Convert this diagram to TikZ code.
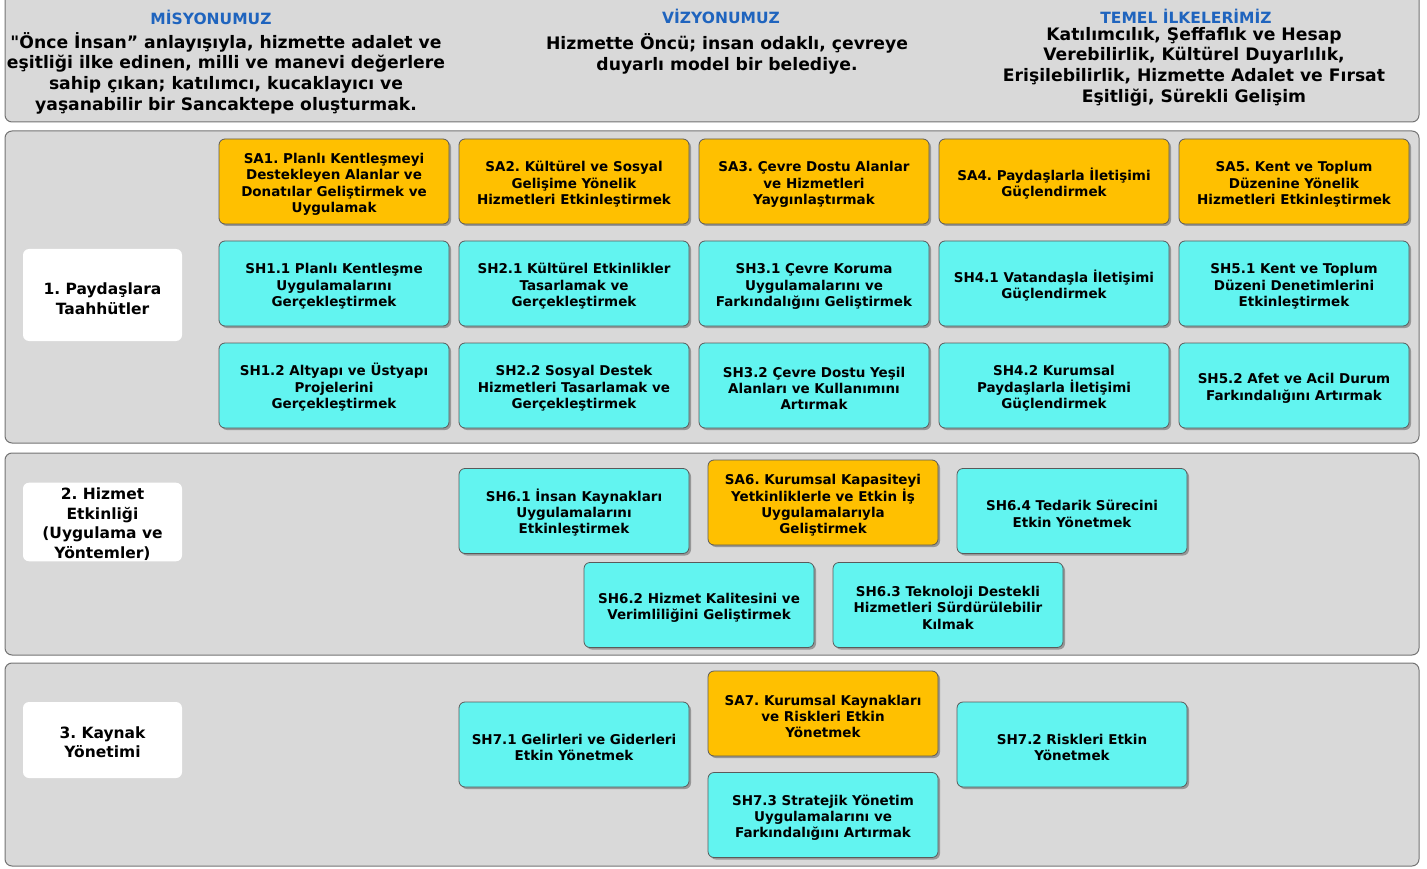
\documentclass[tikz,border=0pt]{standalone}
\usepackage{fontspec}
\setmainfont{DejaVu Sans}[Ligatures=TeXOff]
\usetikzlibrary{shadows}
\definecolor{gold}{HTML}{FFC000}
\definecolor{cyanbox}{HTML}{62F4F0}
\definecolor{panel}{HTML}{D9D9D9}
\definecolor{titleblue}{HTML}{1F64BE}
\definecolor{edge}{HTML}{5A5A5A}
\newcommand{\boxstrut}{\rule{0pt}{16pt}}
\begin{document}
\frenchspacing
\begin{tikzpicture}[x=1pt,y=-1pt,
  panelbox/.style={draw=edge!85, line width=1pt, fill=panel, rounded corners=7pt},
  box/.style={draw=edge, line width=0.8pt, rounded corners=6pt, minimum width=230pt,
    minimum height=85pt, align=center, inner sep=2pt,
    font=\fontsize{13.5}{16.3}\selectfont\bfseries,
    drop shadow={shadow xshift=2pt, shadow yshift=-2pt, fill=black, opacity=0.3}},
  sa/.style={box, fill=gold},
  sh/.style={box, fill=cyanbox},
  lab/.style={fill=white, rounded corners=6pt, minimum width=159pt, align=center,
    inner sep=1pt, font=\fontsize{15.5}{19.5}\selectfont\bfseries},
  ttl/.style={text=titleblue, font=\fontsize{15.5}{18}\selectfont\bfseries},
  hdr/.style={align=center, inner sep=0pt, font=\fontsize{17.2}{20.6}\selectfont\bfseries}
]
\useasboundingbox (0,0) rectangle (1427,869);
\begin{scope}
\clip (0,0) rectangle (1427,869);
\draw[panelbox] (5,-10) rectangle (1419,122);
\end{scope}
\draw[panelbox] (5,131) rectangle (1419,443);
\draw[panelbox] (5,453) rectangle (1419,655);
\draw[panelbox] (5,663) rectangle (1419,866);

% header
\node[ttl] (tmis) at (211,17) {MİSYONUMUZ};
\node[ttl] (tviz) at (721,16) {VİZYONUMUZ};
\node[ttl] (ttem) at (1186,16) {TEMEL İLKELERİMİZ};
\node[hdr] (mis) at (226,73) {"Önce İnsan” anlayışıyla, hizmette adalet ve\\eşitliği ilke edinen, milli ve manevi değerlere\\sahip çıkan; katılımcı, kucaklayıcı ve\\yaşanabilir bir Sancaktepe oluşturmak.};
\node[hdr] (viz) at (727,54) {Hizmette Öncü; insan odaklı, çevreye\\duyarlı model bir belediye.};
\node[hdr] (tem) at (1194,66.5) {Katılımcılık, Şeffaflık ve Hesap\\Verebilirlik, Kültürel Duyarlılık,\\Erişilebilirlik, Hizmette Adalet ve Fırsat\\Eşitliği, Sürekli Gelişim};

% labels
\node[lab, minimum height=92pt] (lab1) at (102.5,295) {\rule{0pt}{19pt}1. Paydaşlara\\Taahhütler};
\node[lab, minimum height=76pt] (lab2) at (102.5,522) {\rule{0pt}{16pt}2. Hizmet\\Etkinliği\\(Uygulama ve\\Yöntemler)};
\node[lab, minimum height=76pt] (lab3) at (102.5,740) {\rule{0pt}{16pt}3. Kaynak\\Yönetimi};

% section 1
\node[sa] (sa1) at (334,181.5) {\boxstrut SA1. Planlı Kentleşmeyi\\Destekleyen Alanlar ve\\Donatılar Geliştirmek ve\\Uygulamak};
\node[sa] (sa2) at (574,181.5) {\boxstrut SA2. Kültürel ve Sosyal\\Gelişime Yönelik\\Hizmetleri Etkinleştirmek};
\node[sa] (sa3) at (814,181.5) {\boxstrut SA3. Çevre Dostu Alanlar\\ve Hizmetleri\\Yaygınlaştırmak};
\node[sa] (sa4) at (1054,181.5) {\boxstrut SA4. Paydaşlarla İletişimi\\Güçlendirmek};
\node[sa] (sa5) at (1294,181.5) {\boxstrut SA5. Kent ve Toplum\\Düzenine Yönelik\\Hizmetleri Etkinleştirmek};

\node[sh] (sh11) at (334,283.5) {\boxstrut SH1.1 Planlı Kentleşme\\Uygulamalarını\\Gerçekleştirmek};
\node[sh] (sh21) at (574,283.5) {\boxstrut SH2.1 Kültürel Etkinlikler\\Tasarlamak ve\\Gerçekleştirmek};
\node[sh] (sh31) at (814,283.5) {\boxstrut SH3.1 Çevre Koruma\\Uygulamalarını ve\\Farkındalığını Geliştirmek};
\node[sh] (sh41) at (1054,283.5) {\boxstrut SH4.1 Vatandaşla İletişimi\\Güçlendirmek};
\node[sh] (sh51) at (1294,283.5) {\boxstrut SH5.1 Kent ve Toplum\\Düzeni Denetimlerini\\Etkinleştirmek};

\node[sh] (sh12) at (334,385.5) {\boxstrut SH1.2 Altyapı ve Üstyapı\\Projelerini\\Gerçekleştirmek};
\node[sh] (sh22) at (574,385.5) {\boxstrut SH2.2 Sosyal Destek\\Hizmetleri Tasarlamak ve\\Gerçekleştirmek};
\node[sh] (sh32) at (814,385.5) {\boxstrut SH3.2 Çevre Dostu Yeşil\\Alanları ve Kullanımını\\Artırmak};
\node[sh] (sh42) at (1054,385.5) {\boxstrut SH4.2 Kurumsal\\Paydaşlarla İletişimi\\Güçlendirmek};
\node[sh] (sh52) at (1294,385.5) {\boxstrut SH5.2 Afet ve Acil Durum\\Farkındalığını Artırmak};

% section 2
\node[sh] (sh61) at (574,511) {\boxstrut SH6.1 İnsan Kaynakları\\Uygulamalarını\\Etkinleştirmek};
\node[sa] (sa6) at (823,502.5) {\boxstrut SA6. Kurumsal Kapasiteyi\\Yetkinliklerle ve Etkin İş\\Uygulamalarıyla\\Geliştirmek};
\node[sh] (sh64) at (1072,511) {\boxstrut SH6.4 Tedarik Sürecini\\Etkin Yönetmek};
\node[sh] (sh62) at (699,605) {\boxstrut SH6.2 Hizmet Kalitesini ve\\Verimliliğini Geliştirmek};
\node[sh] (sh63) at (948,605) {\boxstrut SH6.3 Teknoloji Destekli\\Hizmetleri Sürdürülebilir\\Kılmak};

% section 3
\node[sh] (sh71) at (574,744.5) {\boxstrut SH7.1 Gelirleri ve Giderleri\\Etkin Yönetmek};
\node[sa] (sa7) at (823,713.5) {\boxstrut SA7. Kurumsal Kaynakları\\ve Riskleri Etkin\\Yönetmek};
\node[sh] (sh72) at (1072,744.5) {\boxstrut SH7.2 Riskleri Etkin\\Yönetmek};
\node[sh] (sh73) at (823,815) {\boxstrut SH7.3 Stratejik Yönetim\\Uygulamalarını ve\\Farkındalığını Artırmak};
\end{tikzpicture}
\end{document}
